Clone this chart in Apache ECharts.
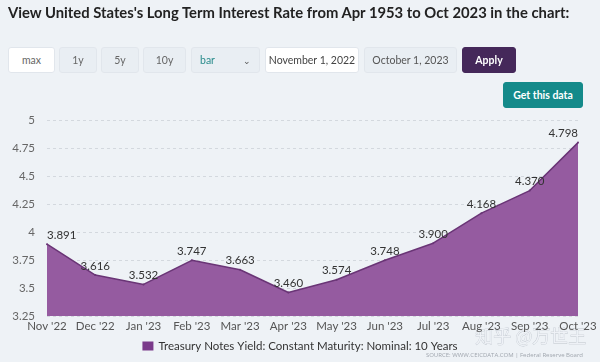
<!DOCTYPE html>
<html>
<head>
<meta charset="utf-8">
<script src="https://cdn.jsdelivr.net/npm/echarts@6/dist/echarts.min.js"></script>
<style>
  html,body{margin:0;padding:0;width:600px;height:362px;background:#eef2f6;overflow:hidden;font-family:Lato,"Open Sans",sans-serif;}
  #chart{position:absolute;left:0;top:0;width:600px;height:362px;}
  .t{position:absolute;left:8px;top:3px;font-size:14.8px;font-weight:700;color:#222;white-space:nowrap;}
  .b{position:absolute;top:47px;height:26px;box-sizing:border-box;border:1px solid #e1e6ec;border-radius:3px;font-size:10.5px;color:#666;display:flex;align-items:center;justify-content:center;background:#e9eef3;}
  .w{background:#fff;}
</style>
</head>
<body>
<div id="chart"></div>
<div class="t">View United States's Long Term Interest Rate from Apr 1953 to Oct 2023 in the chart:</div>
<div class="b w" style="left:8px;width:47px;">max</div>
<div class="b" style="left:59px;width:38px;">1y</div>
<div class="b" style="left:101px;width:38px;">5y</div>
<div class="b" style="left:143px;width:43px;">10y</div>
<div class="b" style="left:191px;width:69px;justify-content:space-between;padding:0 8px;color:#2a8c8c;"><span>bar</span><span style="color:#555;font-size:9px;">&#8964;</span></div>
<div class="b w" style="left:265px;width:94px;color:#444;">November 1, 2022</div>
<div class="b" style="left:364px;width:93px;color:#555;">October 1, 2023</div>
<div class="b" style="left:462px;width:54px;background:#45285a;border-color:#45285a;color:#fff;font-weight:700;">Apply</div>
<div class="b" style="left:503px;top:82px;width:80px;background:#148a8a;border-color:#148a8a;color:#fff;font-weight:700;">Get this data</div>
<script>
const categories = ["Nov '22","Dec '22","Jan '23","Feb '23","Mar '23","Apr '23","May '23","Jun '23","Jul '23","Aug '23","Sep '23","Oct '23"];
const values = [3.891,3.616,3.532,3.747,3.663,3.460,3.574,3.748,3.900,4.168,4.370,4.798];
const seriesName = "Treasury Notes Yield: Constant Maturity: Nominal: 10 Years";
const seriesData = values.map((v, i) => {
  if (i === 0) return {value: v, label: {align: 'left', offset: [-4, 0]}};
  if (i === values.length - 1) return {value: v, label: {align: 'right', offset: [5, 0]}};
  return v;
});
const chart = echarts.init(document.getElementById('chart'));
chart.setOption({
  backgroundColor: 'transparent',
  animation: false,
  textStyle: {fontFamily: 'Lato,"Open Sans",sans-serif'},
  grid: {left: 47, right: 22, top: 120, bottom: 46},
  xAxis: {
    type: 'category', data: categories, boundaryGap: false,
    axisLine: {show: false}, axisTick: {show: false},
    axisLabel: {color: '#555', fontSize: 11.5, margin: 4, interval: 0}
  },
  yAxis: {
    type: 'value', min: 3.25, max: 5, interval: 0.25,
    axisLine: {show: false}, axisTick: {show: false},
    axisLabel: {color: '#666', fontSize: 11.5, margin: 12},
    splitLine: {lineStyle: {color: '#d3d8de', type: [3, 3]}}
  },
  legend: {
    bottom: 5, left: 'center', itemWidth: 11, itemHeight: 9,
    icon: 'rect',
    itemStyle: {color: '#7a3a8a', opacity: 1},
    textStyle: {color: '#333', fontSize: 11.5}
  },
  series: [{
    name: seriesName, type: 'line', data: seriesData,
    symbol: 'circle', symbolSize: 2, showSymbol: true,
    itemStyle: {color: '#6a3576'},
    color: '#7a3a8a',
    lineStyle: {color: '#6a3576', width: 1.5},
    areaStyle: {color: '#955ba0', opacity: 1},
    labelLayout: {hideOverlap: false},
    label: {show: true, position: 'top', distance: 2, color: '#333', fontSize: 11.5, opacity: 1,
      formatter: p => Number(p.value).toFixed(3)}
  }],
  graphic: [
    {type: 'text', left: 475, top: 327, style: {text: '知乎 @万世王', fill: 'rgba(240,243,247,0.9)', stroke: 'rgba(170,176,186,0.7)', lineWidth: 0.6, font: '18px "Noto Sans CJK SC"'}},
    {type: 'text', right: 17, top: 352, style: {text: 'SOURCE: WWW.CEICDATA.COM | Federal Reserve Board', fill: '#a0a6ae', font: '6px "Open Sans"'}}
  ]
});
</script>
</body>
</html>
